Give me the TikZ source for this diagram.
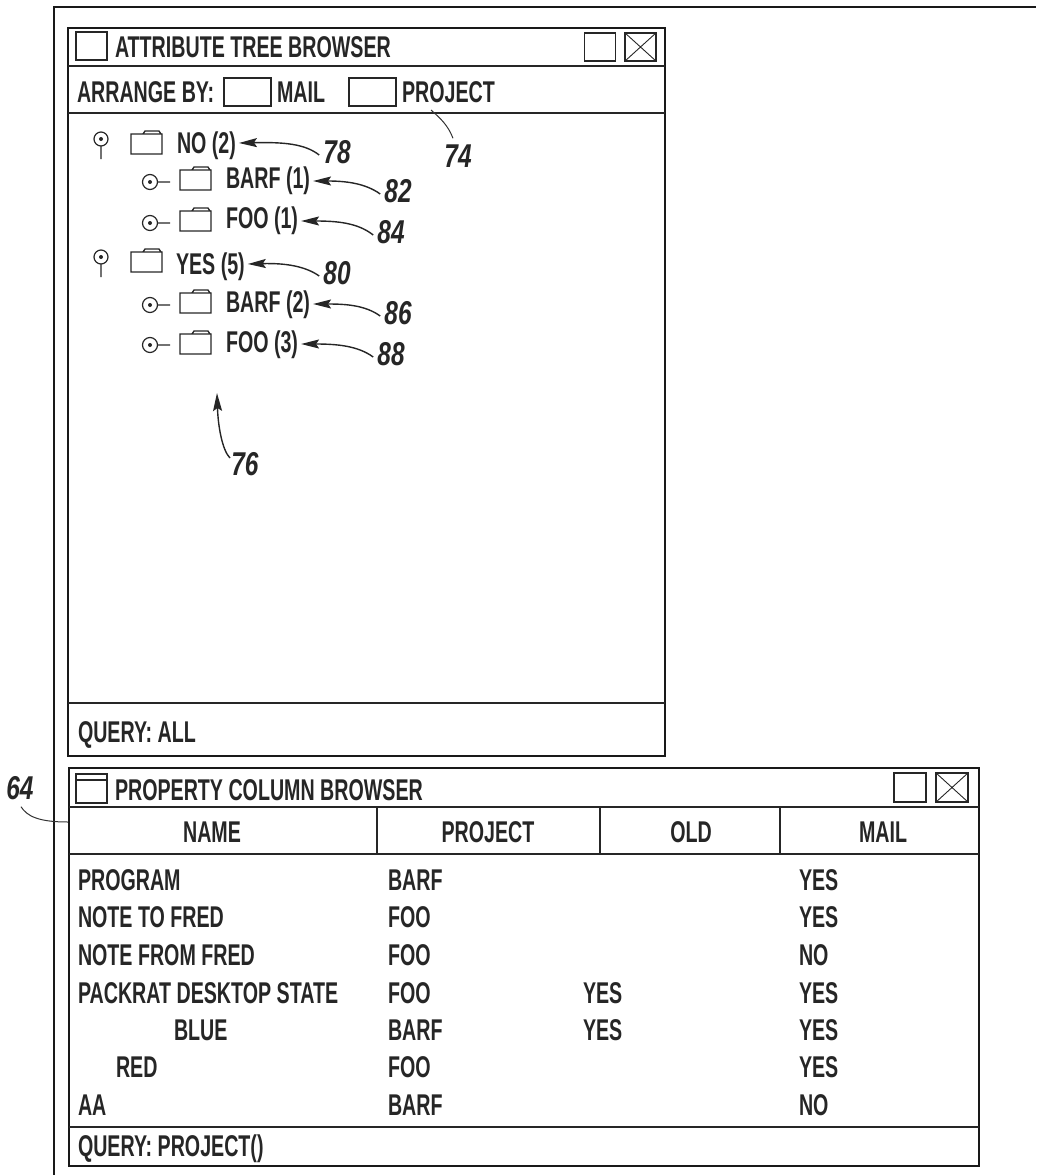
\documentclass[tikz,border=0pt]{standalone}
\usepackage{fontspec}
\setmainfont[FakeStretch=0.655]{Liberation Sans Bold}
\newfontfamily\lblfont[FakeStretch=0.74]{Liberation Sans Bold Italic}
\usetikzlibrary{arrows.meta}
\tikzset{
  winbox/.style={draw=black!90,line width=2pt,rectangle,inner sep=0pt},
  thin line/.style={draw=black!85,line width=1.3pt},
  txt/.style={font=\fontsize{30}{34}\selectfont,text=black!85,anchor=west,inner sep=0pt,outer sep=0pt,text height=21pt,text depth=0pt},
  ctxt/.style={txt,anchor=center},
  treetxt/.style={txt,outer sep=3pt},
  lbl/.style={font=\lblfont\fontsize{33}{36}\selectfont,text=black!85,anchor=center,inner sep=0pt,text height=23pt,text depth=0pt},
  arr/.style={line width=1.4pt,draw=black!85,-{Stealth[length=18pt,width=9pt,inset=3pt]}},
  leader/.style={line width=1pt,draw=black!80},
  btn/.style={draw=black!85,line width=1.2pt,rectangle,inner sep=0pt},
  folder/.pic={\draw[line width=1.3pt,draw=black!85] (0,0) rectangle (31,20) (12,0) -- (14,-3) -- (28,-3) -- (30,0);},
  radiov/.pic={\draw[line width=1.2pt,draw=black!85] (0,0) circle (7) (0,7) -- (0,20); \fill[black!85] (0,0) circle (2);},
  radioh/.pic={\draw[line width=1.2pt,draw=black!85] (0,0) circle (7.5) (7.5,0) -- (20,0); \fill[black!85] (0,0) circle (2);},
}
\begin{document}
\begin{tikzpicture}[x=1pt,y=-1pt]
\useasboundingbox (0,0) rectangle (1036,1175);
% outer frame
\coordinate (fa) at (54,1175);
\coordinate (fb) at (54,7);
\coordinate (fc) at (1036,7);
\draw[line width=2pt,draw=black!90] (fa) -- (fb) -- (fc);
% attribute window
\node[winbox,minimum width=597pt,minimum height=728pt] (awin) at (366.5,392) {};
\draw[thin line] (68,66) -- (665,66) (68,113) -- (665,113) (68,703) -- (665,703);
\node[btn,minimum width=31pt,minimum height=28pt] (aicon) at (91.5,46) {};
\node[btn,minimum width=31pt,minimum height=28pt] (amin) at (600,47) {};
\node[btn,minimum width=31pt,minimum height=28pt] (aclose) at (640.5,47) {};
\draw[line width=.9pt,draw=black!85] (aclose.north west) -- (aclose.south east) (aclose.north east) -- (aclose.south west);
\node[txt] (atitle) at (115,47) {ATTRIBUTE TREE BROWSER};
\node[txt] (arrange) at (77,92) {ARRANGE BY:};
\node[btn,minimum width=47pt,minimum height=28pt] (bmail) at (247.5,92) {};
\node[txt] (tmail) at (277,92) {MAIL};
\node[btn,minimum width=47pt,minimum height=28pt] (bproj) at (372.5,92) {};
\node[txt] (tproj) at (402,92) {PROJECT};
\node[txt] (aquery) at (78,732) {QUERY: ALL};
% tree
\pic at (101,139) {radiov};
\pic at (131,134) {folder};
\node[treetxt] (tno) at (174,143) {NO (2)};
\pic at (150,182) {radioh};
\pic at (180,170) {folder};
\node[treetxt] (tb1) at (223,178) {BARF (1)};
\pic at (150,223) {radioh};
\pic at (180,211) {folder};
\node[treetxt] (tf1) at (223,218) {FOO (1)};
\pic at (101,257) {radiov};
\pic at (131,252) {folder};
\node[treetxt] (tyes) at (173,264) {YES (5)};
\pic at (150,305) {radioh};
\pic at (180,293) {folder};
\node[treetxt] (tb2) at (223,302) {BARF (2)};
\pic at (150,345) {radioh};
\pic at (180,334) {folder};
\node[treetxt] (tf3) at (223,342) {FOO (3)};
% labels
\node[lbl] (l74) at (458,156) {74};
\node[lbl] (l78) at (337,152) {78};
\node[lbl] (l82) at (398,191) {82};
\node[lbl] (l84) at (391,232) {84};
\node[lbl] (l80) at (337,273) {80};
\node[lbl] (l86) at (398,313) {86};
\node[lbl] (l88) at (391,354) {88};
\node[lbl] (l76) at (245,464) {76};
\node[lbl] (l64) at (20,788) {64};
% arrows
\draw[arr] ([shift={(-4,3)}]l78.west) .. controls (305,144) and (285,142) .. (tno.east);
\draw[arr] ([shift={(-4,3)}]l82.west) .. controls (365,183) and (345,181) .. ([yshift=-3pt]tb1.east);
\draw[arr] ([shift={(-4,3)}]l84.west) .. controls (358,223) and (338,221) .. ([yshift=-3pt]tf1.east);
\draw[arr] ([shift={(-4,3)}]l80.west) .. controls (305,266) and (285,263) .. (tyes.east);
\draw[arr] ([shift={(-4,3)}]l86.west) .. controls (365,305) and (345,304) .. ([yshift=-2pt]tb2.east);
\draw[arr] ([shift={(-4,3)}]l88.west) .. controls (358,346) and (338,344) .. ([yshift=-2pt]tf3.east);
\coordinate (t76) at (217,393);
\coordinate (s76) at (230,458);
\draw[arr] (s76) .. controls (222,450) and (218,425) .. (t76);
\coordinate (s74) at (431,110);
\draw[leader] (l74.north) ++(-5,-6) .. controls (448,125) and (440,118) .. (s74);
\coordinate (e64) at (68,822);
\draw[leader] (l64.south) ++(1,7) .. controls (27,816) and (38,822) .. (e64);
% property window
\node[winbox,minimum width=910pt,minimum height=398pt] (pwin) at (524,967) {};
\draw[thin line] (69,807) -- (979,807) (69,854) -- (979,854) (69,1127) -- (979,1127);
\draw[thin line] (377,807) -- (377,854) (600,807) -- (600,854) (780,807) -- (780,854);
\node[btn,minimum width=31pt,minimum height=29pt] (picon) at (91.5,788.5) {};
\draw[line width=1.2pt,draw=black!85] (76,780) -- (107,780);
\node[btn,minimum width=32pt,minimum height=29pt] (pmin) at (910,787.5) {};
\node[btn,minimum width=32pt,minimum height=29pt] (pclose) at (952,787.5) {};
\draw[line width=.9pt,draw=black!85] (pclose.north west) -- (pclose.south east) (pclose.north east) -- (pclose.south west);
\node[txt] (ptitle) at (115,790) {PROPERTY COLUMN BROWSER};
\node[ctxt] (hname) at (212,832) {NAME};
\node[ctxt] (hproj) at (488,832) {PROJECT};
\node[ctxt] (hold) at (691,832) {OLD};
\node[ctxt] (hmail) at (883,832) {MAIL};
\node[txt] (r1n) at (78,880) {PROGRAM};
\node[txt] (r1p) at (388,880) {BARF};
\node[txt] (r1m) at (799,880) {YES};
\node[txt] (r2n) at (78,917) {NOTE TO FRED};
\node[txt] (r2p) at (388,917) {FOO};
\node[txt] (r2m) at (799,917) {YES};
\node[txt] (r3n) at (78,955) {NOTE FROM FRED};
\node[txt] (r3p) at (388,955) {FOO};
\node[txt] (r3m) at (799,955) {NO};
\node[txt] (r4n) at (78,993) {PACKRAT DESKTOP STATE};
\node[txt] (r4p) at (388,993) {FOO};
\node[txt] (r4o) at (583,993) {YES};
\node[txt] (r4m) at (799,993) {YES};
\node[txt] (r5n) at (174,1030) {BLUE};
\node[txt] (r5p) at (388,1030) {BARF};
\node[txt] (r5o) at (583,1030) {YES};
\node[txt] (r5m) at (799,1030) {YES};
\node[txt] (r6n) at (116,1067) {RED};
\node[txt] (r6p) at (388,1067) {FOO};
\node[txt] (r6m) at (799,1067) {YES};
\node[txt] (r7n) at (78,1105) {AA};
\node[txt] (r7p) at (388,1105) {BARF};
\node[txt] (r7m) at (799,1105) {NO};
\node[txt] (pquery) at (78,1146) {QUERY: PROJECT()};
\end{tikzpicture}
\end{document}
